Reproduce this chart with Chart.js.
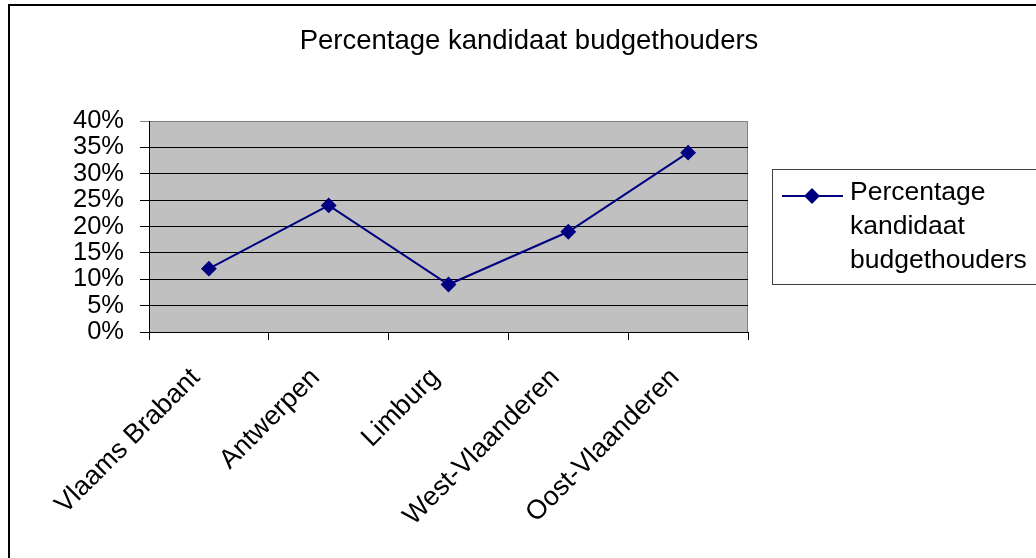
<!DOCTYPE html>
<html>
<head>
<meta charset="utf-8">
<title>Percentage kandidaat budgethouders</title>
<script src="https://cdn.jsdelivr.net/npm/chart.js@4/dist/chart.umd.min.js"></script>
<style>
  html, body { margin: 0; padding: 0; background: #fff; overflow: hidden; }
  #wrap { position: relative; width: 1036px; height: 558px; }
</style>
</head>
<body>
<div id="wrap"><canvas id="chart" width="1036" height="558"></canvas></div>
<script>
// ── Data ─────────────────────────────────────────────────────
const provinces   = ['Vlaams Brabant', 'Antwerpen', 'Limburg', 'West-Vlaanderen', 'Oost-Vlaanderen'];
const percentages = [12, 24, 9, 19, 34];
const seriesName  = 'Percentage kandidaat budgethouders';
const legendLines = ['Percentage', 'kandidaat', 'budgethouders'];
const yTicks      = [0, 5, 10, 15, 20, 25, 30, 35, 40];

const FONT  = '"Liberation Sans", Arial, sans-serif';
const NAVY  = '#000080';
const PLOT  = '#c0c0c0';

// ── Plot background, title, outer frame and legend ──────────
const excelLook = {
  id: 'excelLook',
  beforeDraw(chart) {
    const { ctx, chartArea: a } = chart;
    ctx.save();
    ctx.fillStyle = PLOT;
    ctx.fillRect(a.left, a.top, a.right - a.left, a.bottom - a.top);
    ctx.strokeStyle = '#808080';
    ctx.lineWidth = 1;
    ctx.beginPath();
    ctx.moveTo(a.left, a.top + 0.5);
    ctx.lineTo(a.right - 0.5, a.top + 0.5);
    ctx.lineTo(a.right - 0.5, a.bottom);
    ctx.stroke();
    ctx.restore();
  },
  afterDraw(chart) {
    const { ctx } = chart;
    ctx.save();

    // title, centred on the whole chart object
    ctx.fillStyle = '#000';
    ctx.font = '27.5px ' + FONT;
    ctx.textAlign = 'center';
    ctx.textBaseline = 'middle';
    ctx.fillText(seriesName, 529, 41);

    // outer frame (right/bottom run off the picture)
    ctx.strokeStyle = '#000';
    ctx.lineWidth = 2;
    ctx.strokeRect(9, 5, 1100, 600);

    // legend box
    ctx.lineWidth = 1;
    ctx.strokeStyle = '#404040';
    ctx.fillStyle = '#fff';
    ctx.fillRect(772.5, 169.5, 300, 115);
    ctx.strokeRect(772.5, 169.5, 300, 115);

    // legend sample
    const ds = chart.data.datasets[0];
    ctx.strokeStyle = ds.borderColor;
    ctx.lineWidth = 2;
    ctx.beginPath();
    ctx.moveTo(782, 196);
    ctx.lineTo(843, 196);
    ctx.stroke();
    ctx.fillStyle = ds.backgroundColor;
    Chart.helpers.drawPoint(ctx, {
      pointStyle: 'rectRot', radius: 6.5, borderWidth: 1, rotation: 0
    }, 812, 196);

    ctx.fillStyle = '#000';
    ctx.font = '26.5px ' + FONT;
    ctx.textBaseline = 'middle';
    ctx.textAlign = 'left';
    legendLines.forEach((t, i) => ctx.fillText(t, 850, 193 + i * 34));
    ctx.restore();
  }
};

// ── Chart ────────────────────────────────────────────────────
const ctx = document.getElementById('chart').getContext('2d');
new Chart(ctx, {
  type: 'line',
  data: {
    labels: provinces,
    datasets: [{
      label: seriesName,
      data: percentages,
      borderColor: NAVY,
      backgroundColor: NAVY,
      borderWidth: 2,
      pointStyle: 'rectRot',
      pointRadius: 6.5,
      pointBorderColor: NAVY,
      pointBackgroundColor: NAVY,
      tension: 0,
    }]
  },
  options: {
    responsive: false,
    animation: false,
    devicePixelRatio: 1,
    layout: { padding: { left: 0, right: 288, top: 121, bottom: 0 } },
    plugins: {
      legend:  { display: false },
      tooltip: { enabled: false },
      title:   { display: false },
    },
    scales: {
      x: {
        offset: true,
        grid: {
          offset: true,
          drawOnChartArea: false,
          drawTicks: true,
          tickLength: 8,
          color: '#000',
        },
        border: { color: '#000', width: 1 },
        ticks: {
          color: '#000',
          font: { family: FONT, size: 27 },
          maxRotation: 45,
          minRotation: 45,
          autoSkip: false,
          padding: 22,
          labelOffset: -13,
        },
        afterFit: s => { s.height = 226; },
      },
      y: {
        min: 0,
        max: 40,
        afterBuildTicks: s => { s.ticks = yTicks.map(v => ({ value: v })); },
        grid: {
          color: c => (c.tick && c.tick.value === 40 ? '#808080' : '#000'),
          drawTicks: true,
          tickLength: 9,
        },
        border: { color: '#000', width: 1 },
        ticks: {
          color: '#000',
          font: { family: FONT, size: 25.5 },
          padding: 16,
          autoSkip: false,
          callback: v => v + '%',
        },
        afterFit: s => { s.width = 149; },
      }
    }
  },
  plugins: [excelLook]
});
</script>
</body>
</html>
